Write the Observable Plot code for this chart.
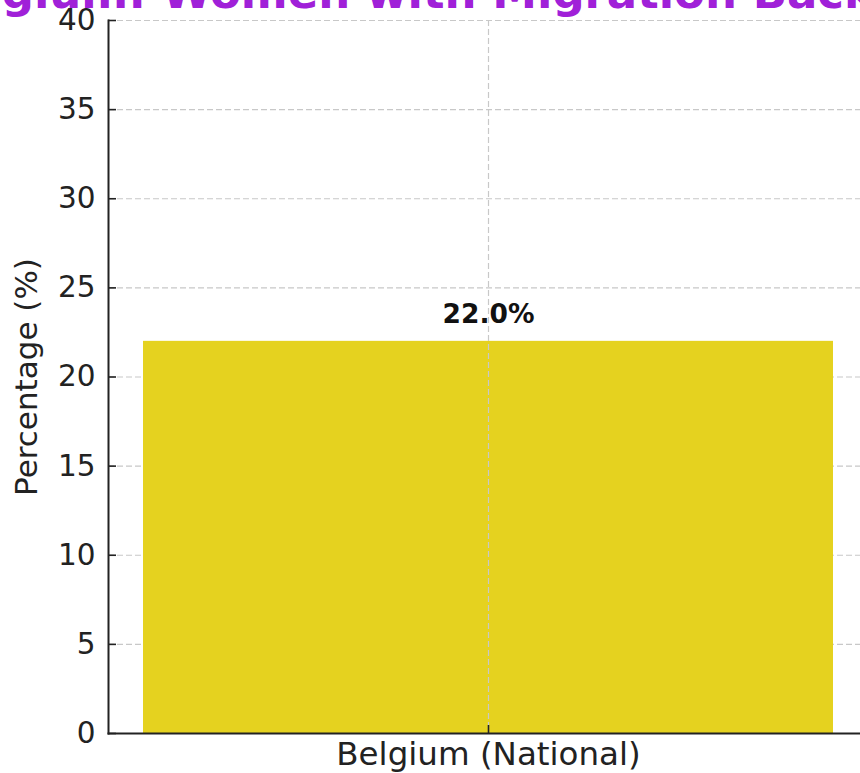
<!DOCTYPE html>
<html>
<head>
<meta charset="utf-8">
<script src="https://cdn.jsdelivr.net/npm/d3@7"></script>
<script src="https://cdn.jsdelivr.net/npm/@observablehq/plot@0.6"></script>
<style>
  html, body { margin: 0; padding: 0; background: white; overflow: hidden; }
  #chart svg { display: block; }
</style>
</head>
<body>
<div id="chart"></div>
<script>
const title = "Belgium: Women with Migration Background";
const yLabel = "Percentage (%)";
const categories = ["Belgium (National)"];
const values = [22.0];
const yTicks = [0, 5, 10, 15, 20, 25, 30, 35, 40];

const data = categories.map((c, i) => ({category: c, value: values[i]}));
const font = "DejaVu Sans";

const chart = Plot.plot({
  width: 860,
  height: 773,
  marginLeft: 108,
  marginRight: -8,
  marginTop: 20,
  marginBottom: 40,
  style: {fontFamily: font, background: "white", overflow: "visible"},
  x: {domain: categories, padding: 0.0476, label: null},
  y: {domain: [0, 40], label: null},
  marks: [
    Plot.gridY(yTicks, {stroke: "#c8c8c8", strokeOpacity: 1, strokeWidth: 1.2, strokeDasharray: "6,3"}),
    Plot.barY(data, {x: "category", y: "value", fill: "#e5d21f"}),
    Plot.gridX(categories, {stroke: "#c8c8c8", strokeOpacity: 1, strokeWidth: 1.2, strokeDasharray: "6,3"}),
    Plot.text(data, {x: "category", y: "value", text: d => d.value.toFixed(1) + "%", dy: -27, fontSize: 26.5, fontWeight: "bold", fill: "#111", lineAnchor: "middle"}),
    Plot.axisY(yTicks, {tickSize: -8, tickPadding: 21, fontSize: 29.5, color: "#222", stroke: "#222", strokeWidth: 1.6, label: null}),
    Plot.axisX({tickSize: -8, tickPadding: 16, fontSize: 32.5, color: "#222", stroke: "#222", strokeWidth: 1.6, label: null}),
    Plot.frame({anchor: "left", stroke: "#222", strokeWidth: 2}),
    Plot.frame({anchor: "bottom", stroke: "#222", strokeWidth: 2}),
    Plot.text([yLabel], {frameAnchor: "left", textAnchor: "middle", rotate: -90, dx: -81, fontSize: 31, fill: "#222"}),
    Plot.text([title], {frameAnchor: "top", dy: -13, fontSize: 45, fontWeight: "bold", fill: "#a020d8", lineAnchor: "bottom"})
  ]
});
document.getElementById("chart").appendChild(chart);
</script>
</body>
</html>
